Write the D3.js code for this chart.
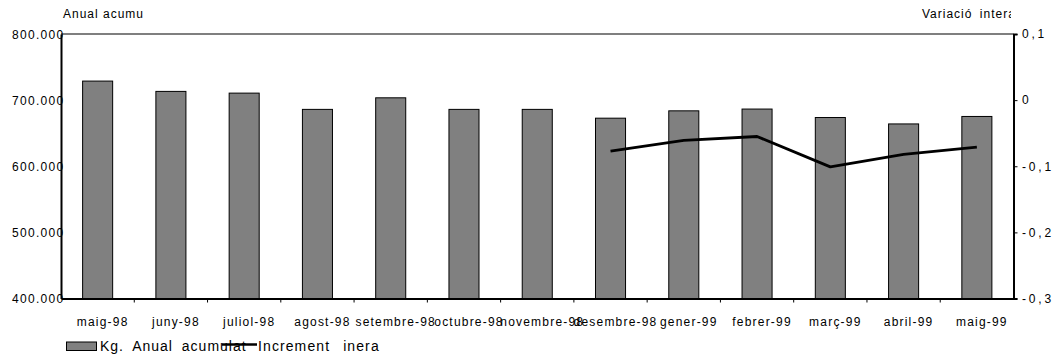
<!DOCTYPE html>
<html><head><meta charset="utf-8">
<script src="https://cdn.jsdelivr.net/npm/d3@7"></script>
<style>
html,body{margin:0;padding:0;background:#fff;}
text{font-family:"Liberation Sans",Arial,sans-serif;fill:#000;}
</style></head>
<body>
<svg id="c" width="1055" height="358"></svg>
<script>
const categories = ["maig-98","juny-98","juliol-98","agost-98","setembre-98","octubre-98","novembre-98","desembre-98","gener-99","febrer-99","març-99","abril-99","maig-99"];
const kgAnual = [728800, 713200, 710600, 686000, 703500, 686000, 686000, 672700, 683800, 686500, 673700, 664000, 675300];
const variacio = [null, null, null, null, null, null, null, -0.077, -0.061, -0.055, -0.101, -0.082, -0.071];
const leftTicks = [400000, 500000, 600000, 700000, 800000];
const leftTickLabels = ["400.000","500.000","600.000","700.000","800.000"];
const rightTicks = [-0.3, -0.2, -0.1, 0, 0.1];
const rightTickLabels = ["-0,3","-0,2","-0,1","0","0,1"];
const leftTitle = "Anual acumu";
const rightTitle = "Variació interanual";
const legendLabels = ["Kg. Anual acumulat", "Increment inera"];

const svg = d3.select("#c");
const L = 61, R = 1013.5, T = 34, B = 298.5;

const x = d3.scaleBand().domain(categories).range([L, R]).paddingInner(0.59).paddingOuter(0.295);
const xs = d3.scaleBand().domain(categories).range([L, R]).padding(0);
const yL = d3.scaleLinear().domain([400000, 800000]).range([B, T]);
const yR = d3.scaleLinear().domain([-0.3, 0.1]).range([B, T]);

// top line
svg.append("line").attr("x1", L).attr("x2", R).attr("y1", yL(800000)).attr("y2", yL(800000))
  .attr("stroke", "#000").attr("stroke-width", 1.2);

// bars
svg.append("g").selectAll("rect").data(categories).join("rect")
  .attr("x", d => x(d)).attr("width", x.bandwidth())
  .attr("y", (d, i) => yL(kgAnual[i])).attr("height", (d, i) => B - yL(kgAnual[i]))
  .attr("fill", "#808080").attr("stroke", "#000").attr("stroke-width", 1);

// line
const pts = categories.map((c, i) => [xs(c) + xs.bandwidth() / 2, variacio[i]]).filter(p => p[1] !== null);
svg.append("path").datum(pts)
  .attr("d", d3.line().x(p => p[0]).y(p => yR(p[1])))
  .attr("fill", "none").attr("stroke", "#000").attr("stroke-width", 2.8).attr("stroke-linejoin", "round");

// left axis
const gl = svg.append("g").attr("transform", `translate(${L},0)`)
  .call(d3.axisLeft(yL).tickValues(leftTicks).tickSize(0).tickPadding(0).tickFormat((d, i) => leftTickLabels[i]));
gl.select(".domain").attr("stroke", "#000").attr("stroke-width", 2);
gl.selectAll("text").attr("x", 3.5).attr("dy", "0.35em").style("font-size", "12px").style("letter-spacing", "1.3px")
  .style("font-family", "'Liberation Sans',Arial,sans-serif").attr("fill", "#000");

// right axis
const gr = svg.append("g").attr("transform", `translate(${R},0)`)
  .call(d3.axisRight(yR).tickValues(rightTicks).tickSize(4).tickPadding(4.5).tickFormat((d, i) => rightTickLabels[i]));
gr.select(".domain").attr("stroke", "#000").attr("stroke-width", 2);
gr.selectAll(".tick line").attr("stroke", "#000");
gr.selectAll("text").style("font-size", "12px").style("letter-spacing", "2.8px")
  .style("font-family", "'Liberation Sans',Arial,sans-serif").attr("fill", "#000");

// bottom axis
const gb = svg.append("g").attr("transform", `translate(0,${B})`)
  .call(d3.axisBottom(xs).tickSize(0).tickPadding(19));
gb.select(".domain").attr("stroke", "#000").attr("stroke-width", 2);
gb.selectAll("text").attr("dx", 5).style("font-size", "12px").style("letter-spacing", "1.2px")
  .style("font-family", "'Liberation Sans',Arial,sans-serif").attr("fill", "#000");
// bottom ticks at band boundaries
svg.append("g").selectAll("line").data(categories.slice(1)).join("line")
  .attr("x1", d => xs(d)).attr("x2", d => xs(d)).attr("y1", B).attr("y2", B + 4)
  .attr("stroke", "#000").attr("stroke-width", 1);

// titles
svg.append("text").attr("x", 63).attr("y", 18).text(leftTitle)
  .style("font-size", "12px").style("letter-spacing", "1px");
svg.append("clipPath").attr("id", "rtclip").append("rect").attr("x", 900).attr("y", 0).attr("width", 111).attr("height", 30);
svg.append("text").attr("x", 922).attr("y", 18).text(rightTitle).attr("clip-path", "url(#rtclip)")
  .style("font-size", "12px").style("letter-spacing", "1px").style("word-spacing", "3px");

// legend
const lg = svg.append("g");
lg.append("rect").attr("x", 66.5).attr("y", 342).attr("width", 30).attr("height", 8.5)
  .attr("fill", "#808080").attr("stroke", "#000").attr("stroke-width", 1);
lg.append("text").attr("x", 100).attr("y", 351).text(legendLabels[0])
  .style("font-size", "14px").style("letter-spacing", "1px").style("word-spacing", "4px");
lg.append("line").attr("x1", 222).attr("x2", 257).attr("y1", 344.5).attr("y2", 344.5)
  .attr("stroke", "#000").attr("stroke-width", 2.6);
lg.append("text").attr("x", 258).attr("y", 351).text(legendLabels[1])
  .style("font-size", "14px").style("letter-spacing", "1.1px").style("word-spacing", "8px");
</script>
</body></html>
